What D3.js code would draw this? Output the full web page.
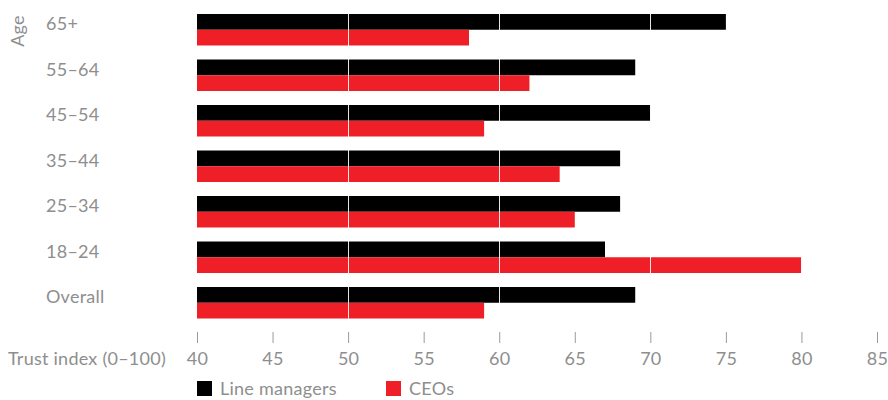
<!DOCTYPE html>
<html>
<head>
<meta charset="utf-8">
<script src="https://cdn.jsdelivr.net/npm/d3@7"></script>
<style>
  html, body { margin: 0; padding: 0; background: #fff; }
  svg { display: block; }
  text { font-family: Lato, "Open Sans", sans-serif; font-weight: 400; letter-spacing: 0.25px; fill: #8e8e8e; }
</style>
</head>
<body>
<svg id="chart" width="888" height="400"></svg>
<script>
// Trust index by age group
const categories = ["65+", "55–64", "45–54", "35–44", "25–34", "18–24", "Overall"];
const lineManagers = [75, 69, 70, 68, 68, 67, 69];
const ceos = [58, 62, 59, 64, 65, 80, 59];
const seriesNames = ["Line managers", "CEOs"];
const seriesColors = ["#000000", "#ee1f26"];
const xTicks = [40, 45, 50, 55, 60, 65, 70, 75, 80, 85];
const gridValues = [50, 60, 70, 80];

const svg = d3.select("#chart");

const x = d3.scaleLinear().domain([40, 85]).range([197, 877]);
const y = d3.scaleBand().domain(categories).range([14, 318.5])
  .paddingInner(0.308).paddingOuter(0);
const ySub = d3.scaleBand().domain(seriesNames).range([0, y.bandwidth()]).padding(0);

const rows = categories.map((c, i) => ({
  category: c,
  values: [
    { series: seriesNames[0], value: lineManagers[i] },
    { series: seriesNames[1], value: ceos[i] }
  ]
}));

// Bars
const groups = svg.append("g").selectAll("g")
  .data(rows).join("g")
  .attr("transform", d => `translate(0,${y(d.category)})`);

groups.selectAll("rect")
  .data(d => d.values).join("rect")
  .attr("x", x(40))
  .attr("y", d => ySub(d.series))
  .attr("width", d => x(d.value) - x(40))
  .attr("height", ySub.bandwidth())
  .attr("fill", (d, i) => seriesColors[i]);

// White gridlines cutting through the bars
svg.append("g").selectAll("line")
  .data(gridValues).join("line")
  .attr("x1", d => Math.round(x(d)) + 0.5)
  .attr("x2", d => Math.round(x(d)) + 0.5)
  .attr("y1", y.range()[0])
  .attr("y2", y.range()[1])
  .attr("stroke", "#ffffff")
  .attr("stroke-opacity", 0.9)
  .attr("stroke-width", 1);

// Category labels
svg.append("g").selectAll("text")
  .data(categories).join("text")
  .attr("x", 46)
  .attr("y", d => y(d) + 16)
  .attr("font-size", 18)
  .text(d => d);

// Vertical axis title
svg.append("text")
  .attr("transform", "translate(24,31) rotate(-90)")
  .attr("text-anchor", "middle")
  .attr("font-size", 18)
  .text("Age");

// Bottom axis
const xAxis = d3.axisBottom(x).tickValues(xTicks).tickSize(11).tickPadding(6)
  .tickFormat(d3.format("d"));
const axisG = svg.append("g")
  .attr("transform", "translate(0,332)")
  .call(xAxis);
axisG.attr("font-family", null).attr("font-size", null);
axisG.select(".domain").remove();
axisG.selectAll(".tick line").attr("stroke", "#9a9a9a").attr("stroke-width", 1);
axisG.selectAll(".tick text")
  .attr("font-size", 18)
  .attr("dy", null)
  .attr("y", 33);

svg.append("text")
  .attr("x", 166)
  .attr("y", 365)
  .attr("text-anchor", "end")
  .attr("font-size", 18)
  .text("Trust index (0–100)");

// Legend
const legendX = [197, 386];
const legend = svg.append("g").selectAll("g")
  .data(seriesNames).join("g")
  .attr("transform", (d, i) => `translate(${legendX[i]},381)`);
legend.append("rect")
  .attr("width", 15).attr("height", 15)
  .attr("fill", (d, i) => seriesColors[i]);
legend.append("text")
  .attr("x", 23).attr("y", 14)
  .attr("font-size", 18)
  .text(d => d);
</script>
</body>
</html>
